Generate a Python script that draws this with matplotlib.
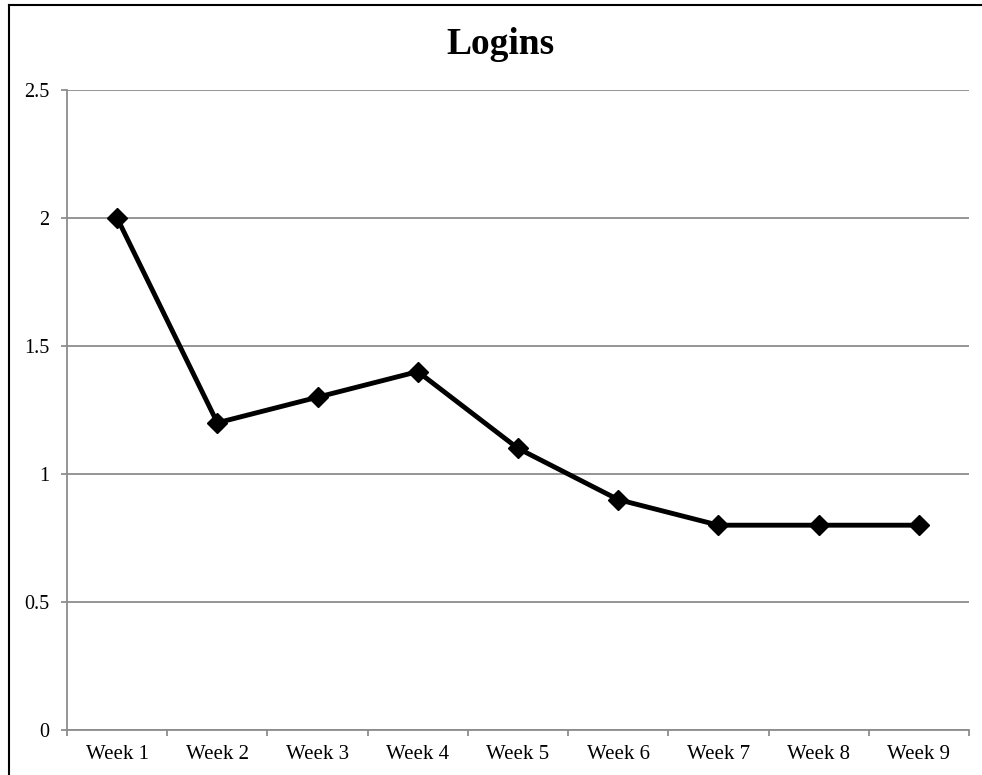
import matplotlib
matplotlib.use("Agg")
import matplotlib.pyplot as plt
from matplotlib.lines import Line2D
import numpy as np

categories = ["Week 1", "Week 2", "Week 3", "Week 4", "Week 5", "Week 6", "Week 7", "Week 8", "Week 9"]
logins = [2.0, 1.2, 1.3, 1.4, 1.1, 0.9, 0.8, 0.8, 0.8]
yticks = [0, 0.5, 1, 1.5, 2, 2.5]
ytick_labels = ["0", "0.5", "1", "1.5", "2", "2.5"]

W, H = 982, 775
fig = plt.figure(figsize=(W / 100, H / 100), dpi=100)
plt.rcParams["font.family"] = ["Liberation Serif", "DejaVu Serif"]

left, right, top, bottom = 67, 969, 90, 730
ax = fig.add_axes([left / W, 1 - bottom / H, (right - left) / W, (bottom - top) / H])

x = np.arange(len(categories))
ax.plot(x, logins, color="black", lw=3.5, marker="D", markersize=10, zorder=5, clip_on=False)

ax.set_xlim(-0.5, len(categories) - 0.5)
ax.set_ylim(0, 2.5)

grid_c = "#8c8c8c"
ax.set_yticks(yticks)
ax.set_yticklabels(ytick_labels, fontsize=14.5)
ax.yaxis.grid(True, color=grid_c, lw=1.3)
ax.set_axisbelow(True)

ax.set_xticks(x)
ax.set_xticklabels(categories, fontsize=15)
ax.set_xticks(np.arange(len(categories) + 1) - 0.5, minor=True)
ax.tick_params(axis="x", which="major", length=0, pad=11)
ax.tick_params(axis="x", which="minor", length=4.3, color=grid_c, width=1.3)
ax.tick_params(axis="y", length=4.3, color=grid_c, width=1.3, pad=8.5)

for s in ["top", "right"]:
    ax.spines[s].set_visible(False)
for s in ["left", "bottom"]:
    ax.spines[s].set_color(grid_c)
    ax.spines[s].set_linewidth(1.3)

fig.text(500 / W, 1 - 44 / H, "Logins", ha="center", va="center", fontsize=27, fontweight="bold")

# outer chart border (left and top visible)
fig.add_artist(Line2D([8.5 / W, 8.5 / W], [0, 1 - 4.5 / H], color="black", lw=1.5, transform=fig.transFigure))
fig.add_artist(Line2D([8.5 / W, 1], [1 - 4.5 / H, 1 - 4.5 / H], color="black", lw=1.5, transform=fig.transFigure))

fig.savefig("out.png", dpi=100, facecolor="white")
